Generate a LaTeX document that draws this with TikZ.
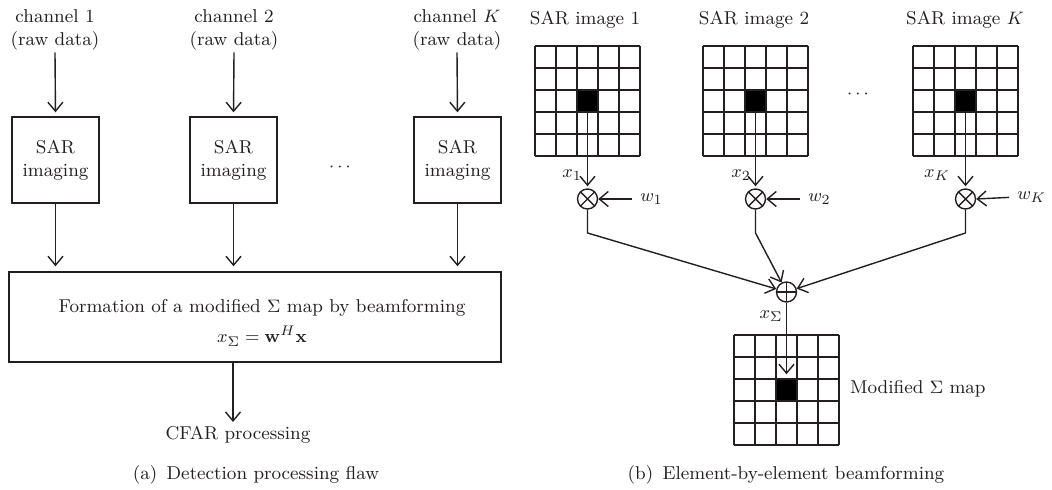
\documentclass[tikz,border=0pt]{standalone}
\usetikzlibrary{arrows.meta}
\definecolor{ink}{RGB}{35,31,32}
\newcommand\sargrid[3]{%
  \foreach \i in {0,...,5} {
    \draw[gridline] ({#1+\i*21},#2) -- ({#1+\i*21},{#2+110});
    \draw[gridline] (#1,{#2+\i*22}) -- ({#1+105},{#2+\i*22});
  }
  \node[blk] (#3) at ({#1+52.5},{#2+55}) {};
}
\begin{document}
\begin{tikzpicture}[x=0.5pt,y=-0.5pt,
  every node/.style={font=\fontsize{9.3}{11.3}\selectfont, text=ink},
  txt/.style={align=center, inner sep=1pt},
  box/.style={draw=ink, line width=0.7pt, align=center, inner sep=0pt},
  arr/.style={draw=ink, line width=0.7pt, -{Straight Barb[length=4.5pt,width=7.5pt]}},
  ln/.style={draw=ink, line width=0.7pt},
  gridline/.style={draw=ink, line width=0.7pt},
  blk/.style={draw=ink, fill=black, line width=0.7pt, minimum width=10.5pt, minimum height=11pt, inner sep=0pt},
  mult/.style={circle, draw=ink, line width=0.7pt, minimum size=10pt, inner sep=0pt,
    path picture={\draw[ink, line width=0.7pt] (path picture bounding box.north west) -- (path picture bounding box.south east)
      (path picture bounding box.north east) -- (path picture bounding box.south west);}},
  add/.style={circle, draw=ink, line width=0.7pt, minimum size=10pt, inner sep=0pt,
    path picture={\draw[ink, line width=0.7pt] (path picture bounding box.north) -- (path picture bounding box.south)
      (path picture bounding box.east) -- (path picture bounding box.west);}},
]
\useasboundingbox (0,0) rectangle (1052,490);

% ---------- (a) ----------
\node[txt] (c1) at (55,30) {channel 1\\(raw data)};
\node[txt] (c2) at (234,30) {channel 2\\(raw data)};
\node[txt] (cK) at (457,30) {channel $K$\\(raw data)};

\node[box, minimum width=43.5pt, minimum height=43pt] (s1) at (55.5,160) {SAR\\imaging};
\node[box, minimum width=43.5pt, minimum height=43pt] (s2) at (233.5,160) {SAR\\imaging};
\node[box, minimum width=43.5pt, minimum height=43pt] (sK) at (457.5,160) {SAR\\imaging};
\node (dA) at (340,167) {$\cdots$};

\node[box, minimum width=246pt, minimum height=45pt] (fb) at (255,317) {};
\node[anchor=base, inner sep=0pt] (f1) at (262,313) {Formation of a modified $\Sigma$ map by beamforming};
\node[anchor=base, inner sep=0pt] (f2) at (262,343) {$x_{\Sigma} = \mathbf{w}^{H}\mathbf{x}$};

\node[anchor=base, inner sep=0pt] (cf) at (238,440) {CFAR processing};

\draw[arr, shorten >=2pt] (c1.south) -- (s1.north);
\draw[arr, shorten >=2pt] (c2.south) -- (s2.north);
\draw[arr, shorten >=2pt] (cK.south) -- (sK.north);
\draw[arr, shorten >=2.5pt] (s1.south) -- (s1.south |- fb.north);
\draw[arr, shorten >=2.5pt] (s2.south) -- (s2.south |- fb.north);
\draw[arr, shorten >=2.5pt] (sK.south) -- (sK.south |- fb.north);
\draw[arr, shorten >=3pt] (fb.south -| 233,0) -- (233,428);

\node[anchor=base, inner sep=0pt] (capA) at (256,480) {(a)\enspace Detection processing flaw};

% ---------- (b) ----------
\node[anchor=base, inner sep=0pt] (t1) at (585,25) {SAR image 1};
\node[anchor=base, inner sep=0pt] (t2) at (754,25) {SAR image 2};
\node[anchor=base, inner sep=0pt] (tK) at (965,25) {SAR image $K$};

\sargrid{535}{46}{b1}
\sargrid{703}{46}{b2}
\sargrid{913}{46}{bK}
\node (dB) at (858,94) {$\cdots$};

\node[mult] (m1) at (587.5,199) {};
\node[mult] (m2) at (755.5,199) {};
\node[mult] (mK) at (965.5,199) {};

\node (x1) at (572,175) {$x_1$};
\node (x2) at (741,175) {$x_2$};
\node (xK) at (937,175) {$x_K$};

\node[anchor=west, inner sep=0pt] (w1) at (640,199) {$w_1$};
\node[anchor=west, inner sep=0pt] (w2) at (808,199) {$w_2$};
\node[anchor=west, inner sep=0pt] (wK) at (1017,197) {$w_K$};

\draw[arr, shorten >=1pt] (b1.south) -- (m1.north);
\draw[arr, shorten >=1pt] (b2.south) -- (m2.north);
\draw[arr, shorten >=1pt] (bK.south) -- (mK.north);
\draw[arr, shorten <=4pt] (w1.west) -- (m1.east);
\draw[arr, shorten <=4pt] (w2.west) -- (m2.east);
\draw[arr, shorten <=4pt] (wK.west) -- (mK.east);

\node[add] (sum) at (786.5,292) {};
\coordinate (k1) at (587.5,233);
\coordinate (k2) at (755.5,233);
\coordinate (kK) at (965.5,233);
\draw[arr] (m1) -- (k1) -- (sum);
\draw[arr] (m2) -- (k2) -- (sum);
\draw[arr] (mK) -- (kK) -- (sum);

\node (xs) at (771,316) {$x_{\Sigma}$};

\sargrid{734}{335}{bS}
\draw[arr, shorten >=2pt] (sum.south) -- (bS.north);
\node[anchor=west] (ml) at (843,389) {Modified $\Sigma$ map};

\node[anchor=base, inner sep=0pt] (capB) at (786,480) {(b)\enspace Element-by-element beamforming};
\end{tikzpicture}
\end{document}
